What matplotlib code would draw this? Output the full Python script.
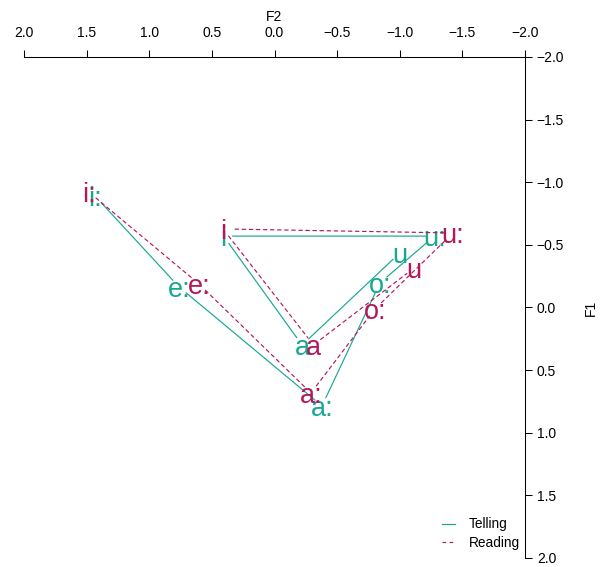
import numpy as np
import matplotlib
matplotlib.use('Agg')
import matplotlib.pyplot as plt
from matplotlib.lines import Line2D

plt.rcParams['font.family'] = ['Liberation Sans', 'DejaVu Sans']

# vowel labels, in the order the path connects them
vowels = ['i:', 'e:', 'a:', 'o:', 'u:', 'i', 'a', 'u']

# normalised formants (F2 on x, F1 on y)
telling_f2 = [1.433, 0.762, -0.379, -0.842, -1.277, 0.407, -0.220, -1.000]
telling_f1 = [-0.890, -0.164, 0.786, -0.196, -0.570, -0.570, 0.300, -0.435]
reading_f2 = [1.481, 0.603, -0.291, -0.802, -1.425, 0.411, -0.311, -1.114]
reading_f1 = [-0.920, -0.188, 0.683, 0.012, -0.595, -0.627, 0.299, -0.315]

ticks = [2.0, 1.5, 1.0, 0.5, 0.0, -0.5, -1.0, -1.5, -2.0]
tick_labels = ['2.0', '1.5', '1.0', '0.5', '0.0', '\u22120.5', '\u22121.0', '\u22121.5', '\u22122.0']

teal = '#17a892'
red = '#b5185a'

fig = plt.figure(figsize=(6, 5.67), dpi=100)
ax = fig.add_axes([0.04, 0.0159, 0.835, 0.8836])
ax.set_xlim(2, -2)
ax.set_ylim(2, -2)

for side in ['left', 'bottom']:
    ax.spines[side].set_visible(False)
for side in ['top', 'right']:
    ax.spines[side].set_linewidth(0.75)

ax.xaxis.tick_top()
ax.yaxis.tick_right()
ax.set_xticks(ticks)
ax.set_xticklabels(tick_labels)
ax.set_yticks(ticks)
ax.set_yticklabels(tick_labels)
ax.tick_params(axis='x', direction='out', length=5, width=0.75, pad=7, labelsize=10)
ax.tick_params(axis='y', direction='out', length=5, width=0.75, pad=3.5, labelsize=10)

ax.xaxis.set_label_position('top')
ax.set_xlabel('F2', fontsize=10, labelpad=4)
ax.yaxis.set_label_position('right')
ax.set_ylabel('F1', fontsize=10, labelpad=14)


def draw_series(f2, f1, color, ls):
    # segments stop short of the labels, like R's type="b"
    for k in range(len(f2) - 1):
        ax.annotate('', xy=(f2[k + 1], f1[k + 1]), xytext=(f2[k], f1[k]),
                    arrowprops=dict(arrowstyle='-', color=color, lw=0.85,
                                    linestyle=ls, shrinkA=6.5, shrinkB=6.5))
    for x, y, v in zip(f2, f1, vowels):
        ax.text(x, y, v, color=color, fontsize=19.5, ha='center', va='center_baseline')


draw_series(telling_f2, telling_f1, teal, '-')
draw_series(reading_f2, reading_f1, red, (0, (3, 3)))

handles = [Line2D([], [], color=teal, lw=0.85),
           Line2D([], [], color=red, lw=0.85, linestyle=(0, (3, 3)))]
ax.legend(handles, ['Telling', 'Reading'], loc='lower right', bbox_to_anchor=(0.99, 0.016),
          frameon=False, fontsize=9.8, handlelength=1.0, handletextpad=1.0,
          labelspacing=0.33, borderpad=0, borderaxespad=0)

fig.savefig('out.png', dpi=100)
